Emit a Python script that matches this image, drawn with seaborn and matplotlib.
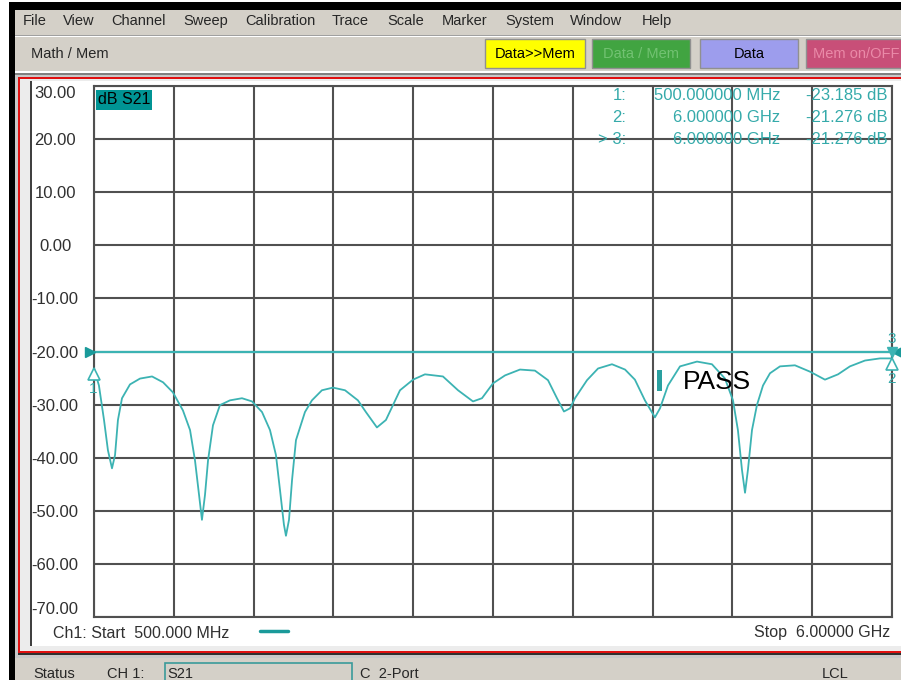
import numpy as np
import pandas as pd
import matplotlib.pyplot as plt
import seaborn as sns
from matplotlib.patches import Rectangle
from matplotlib.transforms import offset_copy

# ------------------------------
# Trace data (S21, dB vs GHz)
# ------------------------------
freq_ghz = [0.500, 0.534, 0.569, 0.596, 0.624, 0.645, 0.665, 0.693, 0.748, 0.817,
            0.900, 0.976, 1.044, 1.113, 1.162, 1.196, 1.224, 1.244, 1.265, 1.286,
            1.320, 1.368, 1.437, 1.520, 1.589, 1.658, 1.713, 1.754, 1.782, 1.809,
            1.823, 1.844, 1.865, 1.892, 1.920, 1.954, 2.002, 2.071, 2.147, 2.230,
            2.319, 2.374, 2.450, 2.512, 2.609, 2.699, 2.781, 2.905, 3.009, 3.112,
            3.174, 3.250, 3.333, 3.436, 3.539, 3.629, 3.691, 3.739, 3.781, 3.815,
            3.898, 3.974, 4.070, 4.160, 4.228, 4.297, 4.366, 4.401, 4.456, 4.539,
            4.656, 4.759, 4.849, 4.904, 4.938, 4.966, 4.987, 5.007, 5.035, 5.069,
            5.111, 5.159, 5.228, 5.331, 5.435, 5.538, 5.628, 5.710, 5.814, 5.917,
            6.000]
s21_db = [-23.2, -26.4, -32.9, -38.6, -42.0, -39.5, -32.9, -28.8, -26.2, -25.1,
          -24.7, -25.8, -27.7, -31.1, -34.8, -40.5, -47.0, -51.7, -47.0, -40.5,
          -33.9, -30.1, -29.2, -28.8, -29.4, -31.4, -34.8, -39.5, -46.1, -52.6,
          -54.7, -51.7, -44.2, -36.7, -34.3, -31.4, -29.2, -27.3, -26.8, -27.3,
          -29.2, -31.4, -34.3, -32.9, -27.3, -25.3, -24.3, -24.7, -27.3, -29.4,
          -28.8, -26.0, -24.5, -23.4, -23.6, -25.4, -28.8, -31.3, -30.7, -28.8,
          -25.4, -23.2, -22.4, -23.4, -25.3, -29.2, -32.4, -30.7, -26.4, -22.8,
          -21.9, -22.4, -25.1, -29.2, -34.8, -42.3, -46.6, -42.3, -34.8, -30.1,
          -26.4, -24.1, -22.8, -22.6, -23.8, -25.3, -24.3, -22.8, -21.7, -21.3,
          -21.3]

marker_ids = ["1", "2", "3"]
marker_freq = [0.5, 6.0, 6.0]
marker_db = [-23.185, -21.276, -21.276]
limit_db = -20.0

y_ticks = [30, 20, 10, 0, -10, -20, -30, -40, -50, -60, -70]
y_tick_labels = [f"{v:.2f}" for v in y_ticks]
start_ghz, stop_ghz = 0.5, 6.0

menu_items = ["File", "View", "Channel", "Sweep", "Calibration", "Trace",
              "Scale", "Marker", "System", "Window", "Help"]
menu_x = [23, 63, 111, 183, 245, 332, 387, 442, 505, 570, 642]

buttons = ["Data>>Mem", "Data / Mem", "Data", "Mem on/OFF"]
button_x = [485, 592, 700, 806]
button_w = [100, 98, 98, 100]
button_fc = ["#ffff00", "#41a441", "#9d9ded", "#c84f78"]
button_tc = ["black", "#72c272", "black", "#ea8aa8"]

TEAL = "#3cb3b3"
TEAL_TXT = "#35aaaa"
GRAY = "#d4d0c8"
GRID = "#505050"

# ------------------------------
# Figure
# ------------------------------
sns.set_style("white")
plt.rcParams["font.family"] = ["Liberation Sans", "DejaVu Sans"]

W, H = 901, 680
fig = plt.figure(figsize=(W / 100, H / 100), dpi=100)

# window chrome, pixel coordinates
bg = fig.add_axes([0, 0, 1, 1], zorder=0)
bg.set_xlim(0, W)
bg.set_ylim(H, 0)
bg.axis("off")


def box(x, y, w, h, fc, ec="none", lw=0):
    bg.add_patch(Rectangle((x, y), w, h, facecolor=fc, edgecolor=ec, linewidth=lw))


box(9, 2, W - 9, 8, "black")
box(9, 2, 6, H - 2, "black")
box(15, 10, W - 15, H - 10, GRAY)
box(15, 35, W - 15, 1, "#a0a0a0")
box(15, 36, W - 15, 1, "white")

for name, x in zip(menu_items, menu_x):
    bg.text(x, 21, name, fontsize=10.5, va="center", ha="left")
bg.text(31, 54, "Math / Mem", fontsize=10.5, va="center", ha="left")

for lab, x, w, fc, tc in zip(buttons, button_x, button_w, button_fc, button_tc):
    box(x, 39, w, 29, fc, ec="#909090", lw=1)
    bg.text(x + w / 2, 54, lab, fontsize=10.5, color=tc, va="center", ha="center")

# frame around the display
box(15, 71, W - 15, 2, "white")
box(15, 73, W - 15, 2, "#808080")
box(15, 75, W - 15, 583, "#c8c8c8")
box(18, 77, W - 18, 2, "#e01010")
box(18, 77, 2, 576, "#e01010")
box(18, 651, W - 18, 2, "#e01010")
box(18, 653, W - 18, 2, "#303030")
box(20, 79, W - 20, 572, "#ececec")
box(30, 81, 2, 565, "#404040")
box(32, 81, W - 32, 565, "white")

# status bar
bg.text(33, 674, "Status", fontsize=10.5, va="center")
bg.text(107, 674, "CH 1:", fontsize=10.5, va="center")
box(165, 663, 187, 20, GRAY, ec="#3a9a9a", lw=1.2)
bg.text(167, 674, "S21", fontsize=10.5, va="center")
bg.text(360, 674, "C  2-Port", fontsize=10.5, va="center")
bg.text(822, 674, "LCL", fontsize=10.5, va="center")

# ------------------------------
# Trace display
# ------------------------------
ax = fig.add_axes([94 / W, 1 - 617 / H, 798 / W, 531 / H], zorder=1)
df = pd.DataFrame({"freq": freq_ghz, "s21": s21_db})
sns.lineplot(data=df, x="freq", y="s21", ax=ax, color=TEAL, lw=1.3,
             estimator=None, zorder=4)
ax.axhline(limit_db, color=TEAL, lw=1.6, zorder=3)

ax.set_xlim(start_ghz, stop_ghz)
ax.set_ylim(min(y_ticks), max(y_ticks))
ax.set_xticks(np.linspace(start_ghz, stop_ghz, 11))
ax.set_xticklabels([])
ax.set_yticks(y_ticks)
ax.set_yticklabels(y_tick_labels, fontsize=12, color="#303030")
ax.tick_params(axis="both", length=0)
ax.tick_params(axis="y", pad=28)
for lab, v in zip(ax.get_yticklabels(), y_ticks):
    lab.set_ha("center")
    if v == max(y_ticks):
        lab.set_va("top")
    elif v == min(y_ticks):
        lab.set_va("bottom")
ax.set_xlabel("")
ax.set_ylabel("")
ax.grid(True, color=GRID, lw=1.5)
for sp in ax.spines.values():
    sp.set_color(GRID)
    sp.set_linewidth(1.5)

# reference-level arrows on the limit line
left_tr = offset_copy(ax.transData, fig=fig, x=-4, y=0, units="dots")
right_tr = offset_copy(ax.transData, fig=fig, x=5, y=0, units="dots")
ax.plot([start_ghz], [limit_db], ">", color="#1a9a9a", ms=7, transform=left_tr, clip_on=False, zorder=6)
ax.plot([stop_ghz], [limit_db], "<", color="#1a9a9a", ms=7, transform=right_tr, clip_on=False, zorder=6)

# markers
for mid, f, d in zip(marker_ids, marker_freq, marker_db):
    if mid == "3":
        tr = offset_copy(ax.transData, fig=fig, x=0, y=6, units="dots")
        ax.plot([f], [d], "v", color=TEAL, ms=7, transform=tr, clip_on=False, zorder=6)
        ttr = offset_copy(ax.transData, fig=fig, x=0, y=19, units="dots")
    else:
        tr = offset_copy(ax.transData, fig=fig, x=0, y=-6, units="dots")
        ax.plot([f], [d], "^", mfc="white", mec=TEAL, mew=1.2, ms=8, transform=tr,
                clip_on=False, zorder=6)
        ttr = offset_copy(ax.transData, fig=fig, x=-1, y=-21, units="dots")
    ax.text(f, d, mid, transform=ttr, color=TEAL_TXT, fontsize=11, ha="center",
            va="center", clip_on=False, zorder=6)

# ------------------------------
# Overlays
# ------------------------------
top = fig.add_axes([0, 0, 1, 1], zorder=2)
top.set_xlim(0, W)
top.set_ylim(H, 0)
top.axis("off")


def fmt_freq(f):
    return f"{f * 1000:.6f} MHz" if f < 1 else f"{f:.6f} GHz"


for i, (mid, f, d) in enumerate(zip(marker_ids, marker_freq, marker_db)):
    y = 96 + i * 21.5
    lab = ("> " if mid == "3" else "") + mid + ":"
    top.text(626, y, lab, color=TEAL_TXT, fontsize=12, ha="right", va="center")
    top.text(780, y, fmt_freq(f), color=TEAL_TXT, fontsize=12, ha="right", va="center")
    top.text(888, y, f"{d:.3f} dB", color=TEAL_TXT, fontsize=12, ha="right", va="center")

top.text(98, 100, "dB S21", fontsize=11.5, color="black", va="center", ha="left",
         bbox=dict(facecolor="#009494", edgecolor="none", pad=1.5))

top.add_patch(Rectangle((657, 370), 5, 21, facecolor="#2aa0a0", edgecolor="none"))
top.text(683, 382, "PASS", fontsize=19, color="black", va="center", ha="left")

top.text(53, 633, f"Ch1: Start  {start_ghz * 1000:.3f} MHz", fontsize=11.5,
         color="#303030", va="center", ha="left")
top.plot([260, 288], [631, 631], color="#1a9a9a", lw=2.5)
top.text(890, 633, f"Stop  {stop_ghz:.5f} GHz", fontsize=11.5,
         color="#303030", va="center", ha="right")

plt.savefig("out.png", dpi=100)
